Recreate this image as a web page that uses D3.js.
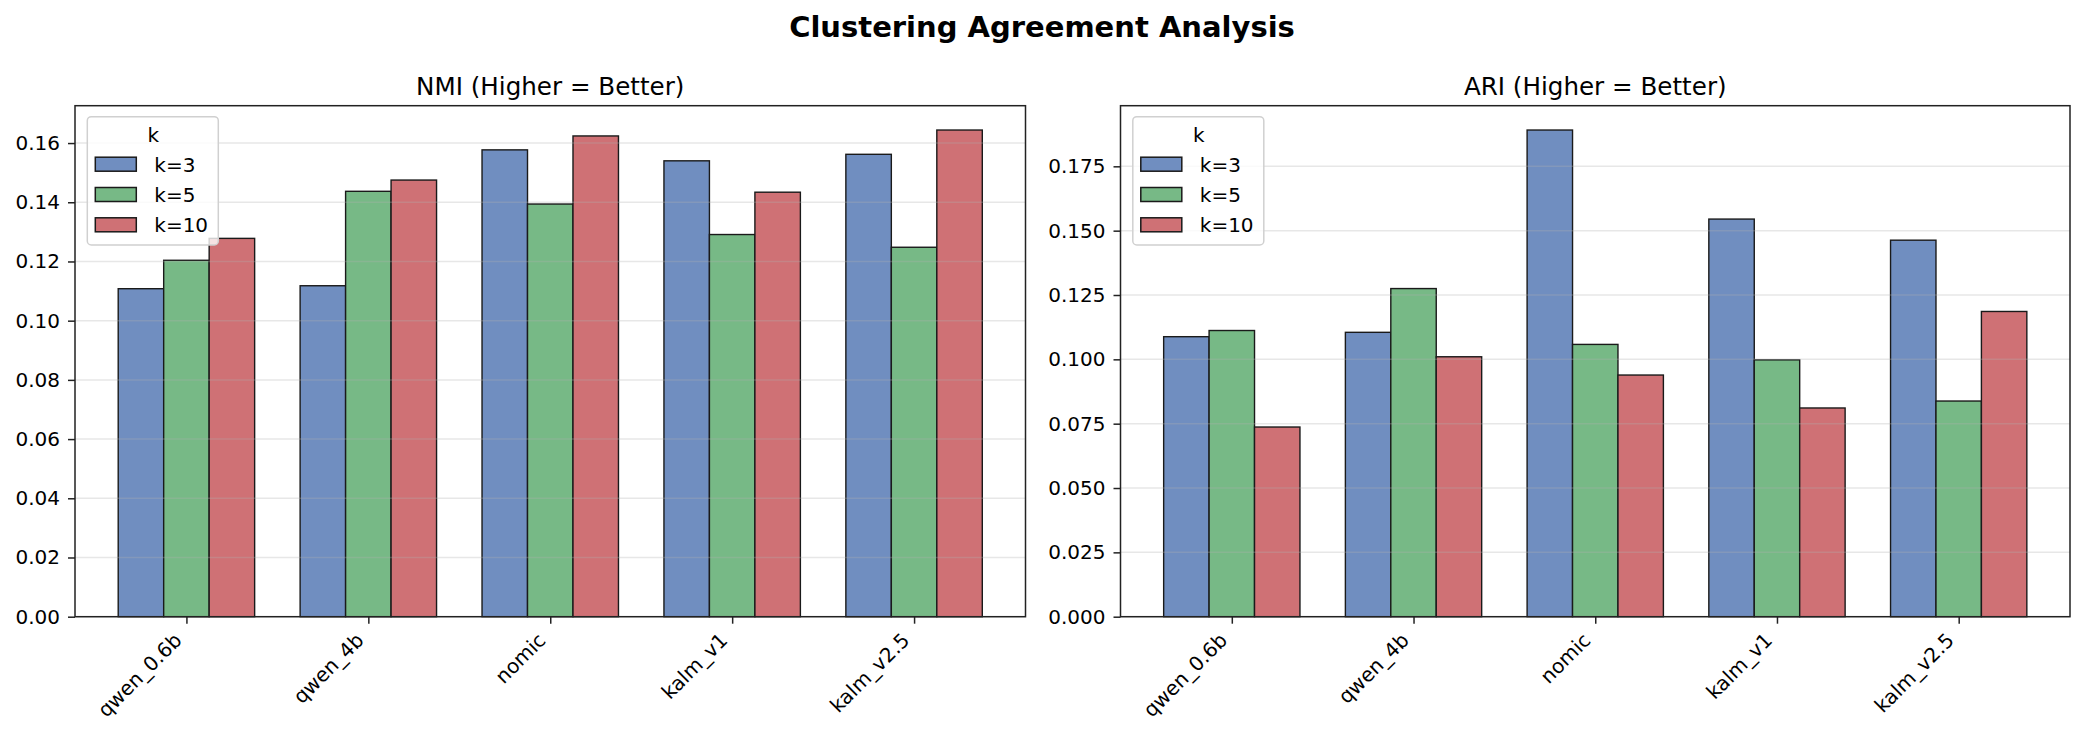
<!DOCTYPE html>
<html><head><meta charset="utf-8">
<script src="https://cdn.jsdelivr.net/npm/d3@7"></script>
<style>
html,body{margin:0;padding:0;background:#fff;}
svg{display:block;font-family:"DejaVu Sans",sans-serif;}
</style></head>
<body>
<svg id="chart" width="2085" height="742"></svg>
<script>
const models = ["qwen_0.6b", "qwen_4b", "nomic", "kalm_v1", "kalm_v2.5"];
const kLabels = ["k=3", "k=5", "k=10"];
const nmiK3  = [0.1108, 0.1118, 0.1577, 0.1540, 0.1562];
const nmiK5  = [0.1204, 0.1437, 0.1394, 0.1291, 0.1248];
const nmiK10 = [0.1278, 0.1475, 0.1624, 0.1434, 0.1644];
const ariK3  = [0.1088, 0.1105, 0.1891, 0.1545, 0.1463];
const ariK5  = [0.1112, 0.1275, 0.1058, 0.0998, 0.0838];
const ariK10 = [0.0737, 0.1010, 0.0939, 0.0811, 0.1186];
const nmiTicks = [0, 0.02, 0.04, 0.06, 0.08, 0.10, 0.12, 0.14, 0.16];
const ariTicks = [0, 0.025, 0.05, 0.075, 0.1, 0.125, 0.15, 0.175];
const colors = ["#708EC0", "#77B986", "#CF7175"];

const svg = d3.select("#chart");
svg.append("rect").attr("width", 2085).attr("height", 742).attr("fill", "#fff");

svg.append("text").attr("x", 1042).attr("y", 36.5).attr("text-anchor", "middle")
  .attr("font-size", 29).attr("font-weight", "bold").attr("fill", "#000")
  .text("Clustering Agreement Analysis");

const plotTop = 105.7, plotBottom = 616.7;
const FS = 20;

function panel(left, right, title, series, ticks, fmt) {
  const g = svg.append("g");
  const x = d3.scaleLinear().domain([-0.6125, 4.6125]).range([left, right]);
  const maxV = d3.max(series.flat());
  const y = d3.scaleLinear().domain([0, maxV * 1.05]).range([plotBottom, plotTop]);
  const bw = x(0.25) - x(0);

  series.forEach((vals, si) => {
    g.append("g").selectAll("rect").data(vals).join("rect")
      .attr("x", (d, i) => x(i + (si - 1) * 0.25 - 0.125))
      .attr("y", d => y(d))
      .attr("width", bw)
      .attr("height", d => y(0) - y(d))
      .attr("fill", colors[si])
      .attr("stroke", "#1a1a1a").attr("stroke-width", 1.4);
  });

  g.append("g").selectAll("line").data(ticks).join("line")
    .attr("x1", left).attr("x2", right)
    .attr("y1", d => y(d)).attr("y2", d => y(d))
    .attr("stroke", "#b0b0b0").attr("stroke-opacity", 0.3).attr("stroke-width", 1.5);

  const ya = g.append("g").attr("transform", `translate(${left},0)`)
    .call(d3.axisLeft(y).tickValues(ticks).tickFormat(fmt).tickSize(7).tickPadding(8).tickSizeOuter(0));
  ya.select(".domain").remove();
  ya.selectAll("line").attr("stroke", "#222").attr("stroke-width", 1.5);
  ya.selectAll("text").attr("font-size", FS).attr("fill", "#000").attr("font-family", "DejaVu Sans");

  const xa = g.append("g").attr("transform", `translate(0,${plotBottom})`)
    .call(d3.axisBottom(x).tickValues(d3.range(models.length)).tickFormat(() => "").tickSize(7).tickSizeOuter(0));
  xa.select(".domain").remove();
  xa.selectAll("line").attr("stroke", "#222").attr("stroke-width", 1.5);
  g.append("g").selectAll("text").data(models).join("text")
    .attr("transform", (d, i) => `translate(${x(i) - 3.4},${plotBottom + 14.2 + 10.7}) rotate(-45)`)
    .attr("text-anchor", "end").attr("font-size", FS).attr("fill", "#000")
    .text(d => d);

  g.append("rect").attr("x", left).attr("y", plotTop).attr("width", right - left).attr("height", plotBottom - plotTop)
    .attr("fill", "none").attr("stroke", "#222").attr("stroke-width", 1.5);

  g.append("text").attr("x", (left + right) / 2).attr("y", 95).attr("text-anchor", "middle")
    .attr("font-size", 24.6).attr("fill", "#000").text(title);

  const lx = left + 12.3, ly = plotTop + 11;
  const lg = g.append("g");
  lg.append("rect").attr("x", lx).attr("y", ly).attr("width", 131).attr("height", 128.3)
    .attr("rx", 4).attr("fill", "#fff").attr("fill-opacity", 0.8)
    .attr("stroke", "#d0d0d0").attr("stroke-width", 1.5);
  lg.append("text").attr("x", lx + 66).attr("y", ly + 25.6).attr("text-anchor", "middle")
    .attr("font-size", FS).attr("fill", "#000").text("k");
  kLabels.forEach((lab, i) => {
    const cy = ly + 47.5 + i * 30.3;
    lg.append("rect").attr("x", lx + 8).attr("y", cy - 7).attr("width", 41).attr("height", 14)
      .attr("fill", colors[i]).attr("stroke", "#1a1a1a").attr("stroke-width", 1.5);
    lg.append("text").attr("x", lx + 67).attr("y", cy + 7.5).attr("font-size", FS).attr("fill", "#000").text(lab);
  });
}

panel(75, 1025.5, "NMI (Higher = Better)", [nmiK3, nmiK5, nmiK10], nmiTicks, d3.format(".2f"));
panel(1120.5, 2070, "ARI (Higher = Better)", [ariK3, ariK5, ariK10], ariTicks, d3.format(".3f"));
</script>
</body></html>
